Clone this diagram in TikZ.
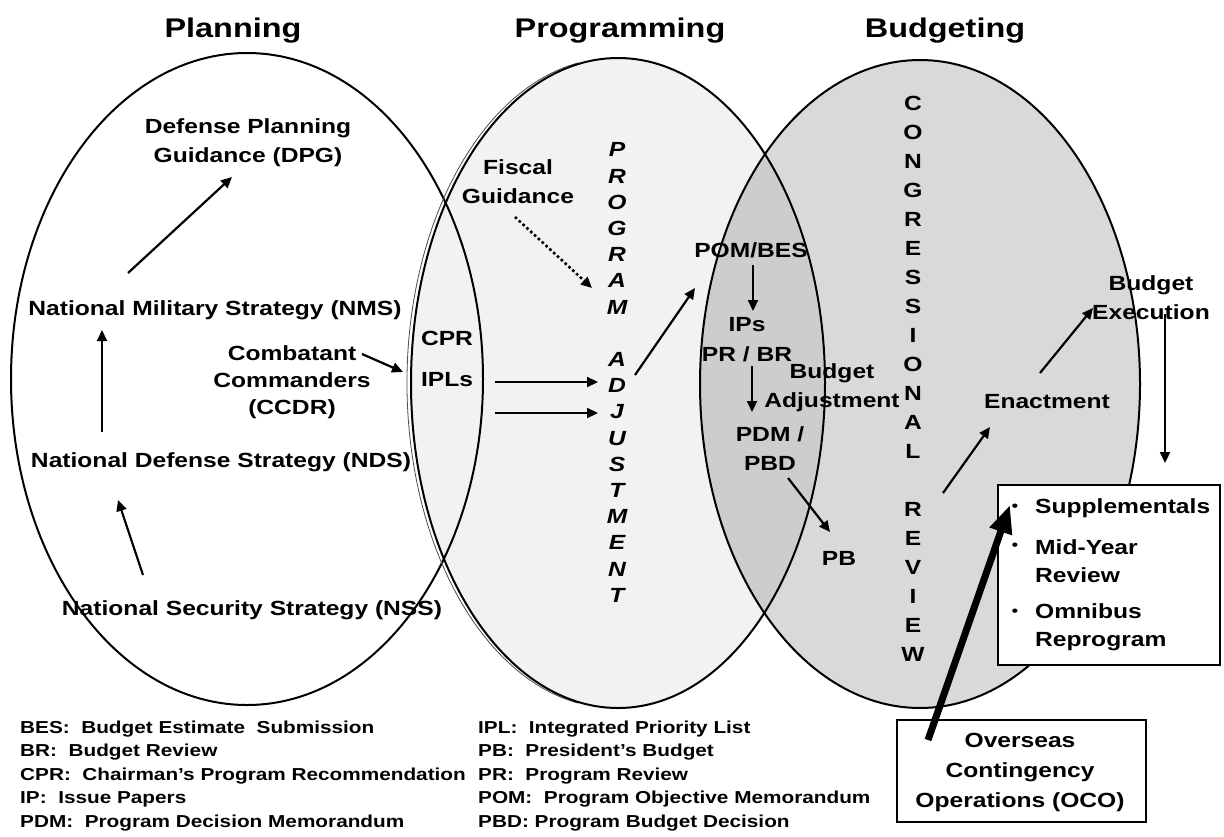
\documentclass[tikz,border=0pt]{standalone}
\usepackage{fontspec}
\newfontfamily\lsb{Liberation Sans}[FakeStretch=1.2, WordSpace=0.7]
\newfontfamily\lsl{Liberation Sans}[FakeStretch=1.2]
\usetikzlibrary{arrows.meta}
\definecolor{midfill}{HTML}{F2F2F2}
\begin{document}
\begin{tikzpicture}[x=1pt,y=-1pt,
  main/.style={font=\lsb\bfseries\fontsize{20.5}{29}\selectfont, align=center, inner sep=0pt},
  ttl/.style={font=\lsb\bfseries\fontsize{27}{30}\selectfont, inner sep=0pt},
  leg/.style={font=\lsl\bfseries\fontsize{17.3}{23.5}\selectfont, align=left, inner sep=0pt, anchor=west},
  vert/.style={main, font=\lsb\bfseries\fontsize{20.5}{26.2}\selectfont},
  vertit/.style={main, font=\lsb\bfseries\itshape\fontsize{20.5}{26.2}\selectfont},
  bul/.style={font=\lsl\fontsize{16}{18}\selectfont, inner sep=0pt},
  itm/.style={main, anchor=west, align=left},
  arr/.style={-{Triangle[length=11pt,width=10pt]}, line width=2.2pt},
  dotarr/.style={-{Triangle[length=11pt,width=10pt]}, line width=2.6pt, dash pattern=on 2.6pt off 2.6pt},
  thickarr/.style={-{Triangle[length=28pt,width=22pt]}, line width=7pt},
  boxed/.style={draw, line width=1.2pt, fill=white, inner sep=0pt},
  ell/.style={line width=2pt}
]
\fill[white] (0,0) rectangle (1224,836);
\useasboundingbox (0,0) rectangle (1224,836);

% ellipses
\fill[midfill] (618,383) ellipse [x radius=207pt, y radius=325pt];
\fill[black, opacity=0.15] (920,384) ellipse [x radius=220pt, y radius=324pt];
\draw[ell] (247,379) ellipse [x radius=236pt, y radius=326pt];
\draw[line width=0.8pt, black!70] (614,383) ++(100:207pt and 325pt) arc [start angle=100, end angle=260, x radius=207pt, y radius=325pt];
\draw[ell] (618,383) ellipse [x radius=207pt, y radius=325pt];
\draw[ell] (920,384) ellipse [x radius=220pt, y radius=324pt];

% titles
\node (tplan) [ttl] at (233,31) {Planning};
\node (tprog) [ttl] at (620,31) {Programming};
\node (tbud) [ttl] at (945,31) {Budgeting};

% planning
\node (dpg) [main] at (248,143) {Defense Planning\\Guidance (DPG)};
\node (nms) [main] at (215,310) {National Military Strategy (NMS)};
\node (ccdr) [main, font=\lsb\bfseries\fontsize{20.5}{27}\selectfont] at (292,382) {Combatant\\Commanders\\(CCDR)};
\node (nds) [main] at (221,462) {National Defense Strategy (NDS)};
\node (nss) [main] at (252,610) {National Security Strategy (NSS)};

\coordinate (nmsA) at (128,273); \coordinate (dpgA) at (232,177);
\coordinate (ndsA) at (102,432); \coordinate (nmsB) at (102,330);
\coordinate (nssA) at (143,575); \coordinate (ndsB) at (118,500);
\coordinate (ccdrA) at (362,354); \coordinate (iplA) at (403,372);
\draw[arr] (nmsA) -- (dpgA);
\draw[arr] (ndsA) -- (nmsB);
\draw[arr] (nssA) -- (ndsB);
\draw[arr] (ccdrA) -- (iplA);

% programming
\node (cpr) [main] at (447,338) {CPR};
\node (ipls) [main] at (447,380) {IPLs};
\node (fiscal) [main] at (518,182) {Fiscal\\Guidance};
\node (padj) [vertit] at (617,372.5) {P\\R\\O\\G\\R\\A\\M\\[26.2pt]A\\D\\J\\U\\S\\T\\M\\E\\N\\T};

\coordinate (iplB) at (495,382); \coordinate (adjA) at (598,382);
\coordinate (iplC) at (495,413); \coordinate (adjB) at (598,413);
\coordinate (fisA) at (515,217); \coordinate (ramA) at (592,288);
\coordinate (adjC) at (635,375); \coordinate (pomA) at (695,288);
\draw[arr] (iplB) -- (adjA);
\draw[arr] (iplC) -- (adjB);
\draw[dotarr] (fisA) -- (ramA);
\draw[arr] (adjC) -- (pomA);

\node (pom) [main] at (751,250) {POM/BES};
\node (ips) [main] at (747,325) {IPs};
\node (prbr) [main] at (747,354) {PR / BR};
\node (badj) [main] at (832,388) {Budget\\Adjustment};
\node (pdm) [main] at (770,449) {PDM /\\PBD};
\node (pb) [main] at (839,558) {PB};

\coordinate (pomB) at (753,265); \coordinate (ipsA) at (753,311);
\coordinate (prbrA) at (752,366); \coordinate (pdmA) at (752,412);
\coordinate (pbdA) at (788,478); \coordinate (pbA) at (830,532);
\draw[arr] (pomB) -- (ipsA);
\draw[arr] (prbrA) -- (pdmA);
\draw[arr] (pbdA) -- (pbA);

% budgeting
\node (congr) [vert, font=\lsb\bfseries\fontsize{20.5}{29}\selectfont] at (913,378.5) {C\\O\\N\\G\\R\\E\\S\\S\\I\\O\\N\\A\\L\\[29pt]R\\E\\V\\I\\E\\W};
\node (enact) [main] at (1047,402) {Enactment};
\node (bexec) [main] at (1151,298) {Budget\\Execution};

\coordinate (crA) at (943,493); \coordinate (enA) at (990,427);
\coordinate (enB) at (1040,373); \coordinate (beA) at (1093,308);
\coordinate (beB) at (1165,314); \coordinate (supA) at (1165,463);
\draw[arr] (crA) -- (enA);
\draw[arr] (enB) -- (beA);
\draw[arr] (beB) -- (supA);

% boxes
\node (supbox) [boxed, minimum width=222pt, minimum height=180pt] at (1109,575) {};
\node (b1) [bul] at (1015,508) {•};
\node (b2) [bul] at (1015,547) {•};
\node (b3) [bul] at (1015,613) {•};
\node (s1) [itm] at (1035,508) {Supplementals};
\node (s2) [itm, font=\lsb\bfseries\fontsize{20.5}{28}\selectfont] at (1035,561) {Mid-Year\\Review};
\node (s3) [itm, font=\lsb\bfseries\fontsize{20.5}{28}\selectfont] at (1035,627) {Omnibus\\Reprogram};

\node (oco) [boxed, minimum width=249pt, minimum height=102pt] at (1021.5,771) {};
\node (ocot) [main, font=\lsb\bfseries\fontsize{20.5}{30}\selectfont] at (1020,772) {Overseas\\Contingency\\Operations (OCO)};

\coordinate (ocoA) at (928,740); \coordinate (supB) at (1010,505);
\draw[thickarr] (ocoA) -- (supB);

% legend
\node (legl) [leg] at (20,776) {BES:~ Budget Estimate~ Submission\\BR:~ Budget Review\\CPR:~ Chairman’s Program Recommendation\\IP:~ Issue Papers\\PDM:~ Program Decision Memorandum};
\node (legr) [leg] at (478,776) {IPL:~ Integrated Priority List\\PB:~ President’s Budget\\PR:~ Program Review\\POM:~ Program Objective Memorandum\\PBD: Program Budget Decision};
\end{tikzpicture}
\end{document}
